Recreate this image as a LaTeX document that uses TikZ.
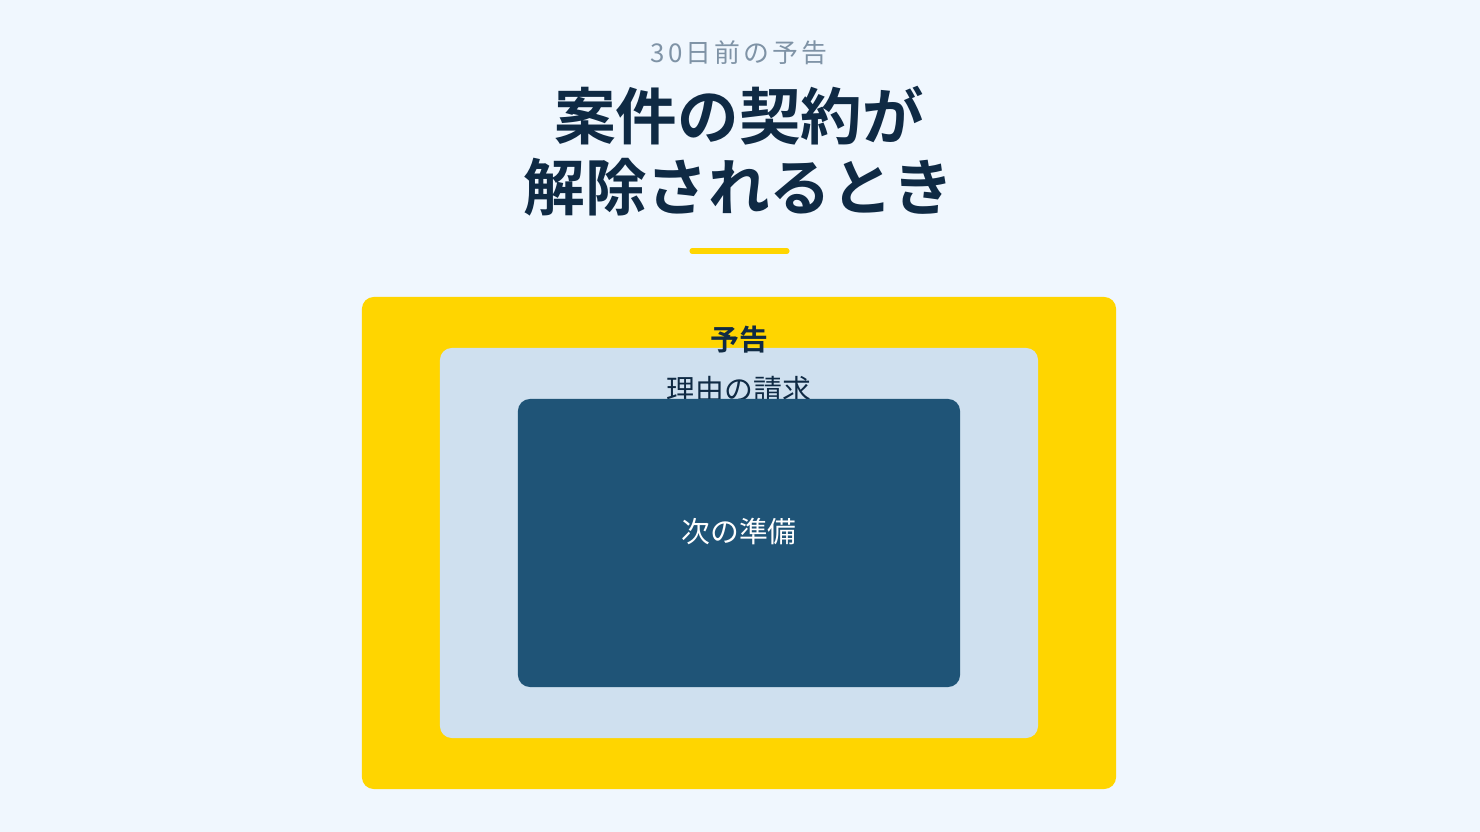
\documentclass[tikz,border=0pt]{standalone}
\usepackage{fontspec}
\setmainfont{Noto Sans CJK JP}[BoldFont={Noto Sans CJK JP Bold}]
\usetikzlibrary{positioning}

\definecolor{pagebg}{HTML}{F0F7FE}
\definecolor{navy}{HTML}{0F2A44}
\definecolor{subgrey}{HTML}{7F93A6}
\definecolor{noticeyellow}{HTML}{FFD500}
\definecolor{reasonblue}{HTML}{CFE0EF}
\definecolor{nextblue}{HTML}{1F5477}

\begin{document}
\begin{tikzpicture}[x=0.025cm,y=-0.025cm]
  \tikzstyle{layer} = [rectangle, rounded corners=0.3cm, inner sep=0pt]
  \tikzstyle{label} = [inner sep=0pt, font=\fontsize{20.5}{24}\selectfont, text=navy]

  \fill[pagebg] (0,0) rectangle (1480,832);
  \useasboundingbox (0,0) rectangle (1480,832);

  \node[text=subgrey, font=\fontsize{18.4}{22}\selectfont\addfontfeature{LetterSpace=12}] (overline) at (739,53) {30日前の予告};
  \node[text=navy, font=\fontsize{43.8}{50.3}\selectfont\bfseries, align=center] (title) at (739,151) {案件の契約が\\解除されるとき};
  \coordinate (ruleleft) at (692,251);
  \coordinate (ruleright) at (787,251);
  \draw[noticeyellow, line width=3.6pt, line cap=round] (ruleleft) -- (ruleright);

  \node[layer, fill=noticeyellow, minimum width=18.85cm, minimum height=12.3cm] (notice) at (739,543) {};
  \node[layer, fill=reasonblue, minimum width=14.95cm, minimum height=9.75cm] (reason) at (739,543) {};
  \node[label, font=\fontsize{20.5}{24}\selectfont\bfseries] (noticelabel) at (739,340) {予告};
  \node[label] (reasonlabel) at (739,390) {理由の請求};
  \node[layer, fill=nextblue, minimum width=11.05cm, minimum height=7.2cm] (next) at (739,543) {};
  \node[label, text=white] (nextlabel) at (739,531) {次の準備};
\end{tikzpicture}
\end{document}
